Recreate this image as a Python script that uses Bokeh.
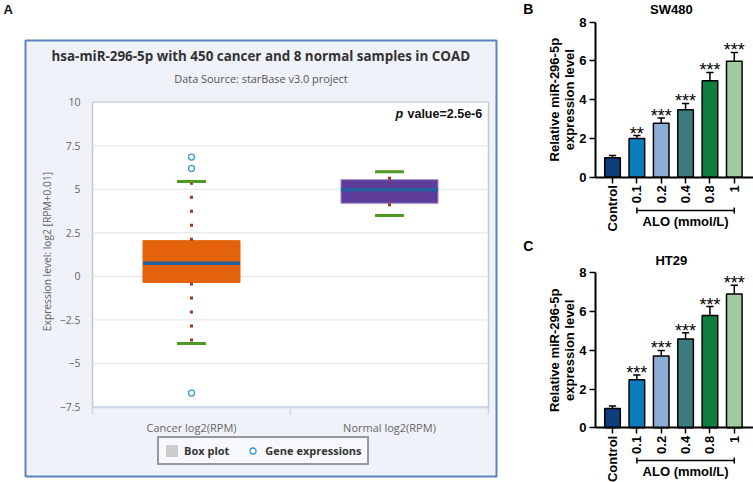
import math
from bokeh.plotting import figure
from bokeh.models import (Range1d, FixedTicker, Label, BoxAnnotation, Legend, LegendItem,
                          ColumnDataSource)
from bokeh.layouts import row, column
from bokeh.embed import file_html
from bokeh.resources import INLINE
from bokeh.core.properties import value

# ---------------- Panel A data (box plot) ----------------
box_categories = ["Cancer log2(RPM)", "Normal log2(RPM)"]
box_q1 = [-0.35, 4.2]
box_median = [0.75, 4.98]
box_q3 = [2.05, 5.55]
whisker_low = [-3.85, 3.5]
whisker_high = [5.45, 6.0]
outlier_group = ["Cancer log2(RPM)", "Cancer log2(RPM)", "Cancer log2(RPM)"]
outlier_values = [6.85, 6.2, -6.7]
y_ticks_A = [-7.5, -5, -2.5, 0, 2.5, 5, 7.5, 10]
box_colors = ["#e3620b", "#5e3c99"]
box_line_colors = ["#e3620b", "#9b86c9"]
title_A = "hsa-miR-296-5p with 450 cancer and 8 normal samples in COAD"
subtitle_A = "Data Source: starBase v3.0 project"
pvalue_p = "p"
pvalue_rest = "value=2.5e-6"
ylabel_A = "Expression level: log2 [RPM+0.01]"

# ---------------- Panel B / C data (bar charts) ----------------
doses = ["Control", "0.1", "0.2", "0.4", "0.8", "1"]
sw480_mean = [1.0, 2.0, 2.78, 3.48, 4.98, 5.98]
sw480_err = [0.12, 0.15, 0.27, 0.33, 0.43, 0.46]
sw480_stars = ["", "**", "***", "***", "***", "***"]
ht29_mean = [1.0, 2.48, 3.7, 4.58, 5.8, 6.9]
ht29_err = [0.12, 0.25, 0.29, 0.33, 0.46, 0.46]
ht29_stars = ["", "***", "***", "***", "***", "***"]
bar_colors = ["#0d3d7a", "#0a7cc0", "#8cadd6", "#3c7c7d", "#0b7e40", "#a4caa1"]
y_ticks_BC = [0, 2, 4, 6, 8]
group_label = "ALO (mmol/L)"

# =============== Panel A ===============
WA, HA = 517, 482
PX0, PX1 = 92.0, 488.0      # plot area, canvas px
PY0, PY1 = 101.7, 406.5
nA = len(box_categories)
ymin, ymax = y_ticks_A[0], y_ticks_A[-1]
ux = (PX1 - PX0) / nA
uy = (PY1 - PY0) / (ymax - ymin)

pA = figure(width=WA, height=HA,
            x_range=Range1d(-PX0 / ux, (WA - PX0) / ux),
            y_range=Range1d(ymin - (HA - PY1) / uy, ymax + PY0 / uy),
            output_backend="svg", toolbar_location=None, min_border=0)
pA.background_fill_color = "white"
pA.border_fill_color = "white"
pA.outline_line_color = None
pA.xgrid.visible = False
pA.ygrid.visible = False


def lab(p, H, px, py, text, **kw):
    p.add_layout(Label(x=px, y=H - py, x_units="screen", y_units="screen", text=text, **kw))


pA.add_layout(BoxAnnotation(left=25, right=496, top=HA - 40, bottom=HA - 476,
                            left_units="screen", right_units="screen",
                            top_units="screen", bottom_units="screen",
                            fill_color="#f0f2f9", fill_alpha=1.0,
                            line_color="#5b84bd", line_alpha=1.0, line_width=2,
                            level="underlay"))
pA.add_layout(BoxAnnotation(left=0, right=nA, top=ymax, bottom=ymin,
                            fill_color="white", fill_alpha=1.0,
                            line_color="#c3c7cf", line_alpha=1.0, line_width=1.5,
                            level="underlay"))

xposA = [i + 0.5 for i in range(nA)]

# horizontal grid lines at the y ticks, limited to the plot area
pA.segment(x0=[0] * len(y_ticks_A), y0=y_ticks_A, x1=[nA] * len(y_ticks_A), y1=y_ticks_A,
           line_color="#e3e3e3", line_width=1)

ya = pA.yaxis[0]
ya.fixed_location = 0
ya.bounds = (ymin, ymax)
ya.ticker = FixedTicker(ticks=y_ticks_A)
ya.axis_line_color = None
ya.major_tick_in = 0
ya.major_tick_out = 0
ya.minor_tick_in = 0
ya.minor_tick_out = 0
ya.major_label_text_font = "Open Sans"
ya.major_label_text_font_size = "10.5px"
ya.major_label_text_color = "#666666"
ya.major_label_standoff = 12

xa = pA.xaxis[0]
xa.fixed_location = ymin
xa.bounds = (0, nA)
xa.ticker = FixedTicker(ticks=xposA, minor_ticks=list(range(nA + 1)))
xa.major_label_overrides = {x: c for x, c in zip(xposA, box_categories)}
xa.axis_line_color = "#ccd6eb"
xa.axis_line_width = 1.5
xa.major_tick_in = 0
xa.major_tick_out = 0
xa.minor_tick_in = 0
xa.minor_tick_out = 7
xa.minor_tick_line_color = "#ccd6eb"
xa.minor_tick_line_width = 1.5
xa.major_label_text_font = "Open Sans"
xa.major_label_text_font_size = "11px"
xa.major_label_text_color = "#666666"
xa.major_label_standoff = 6

hw = 0.245
cw = 0.073
srcA = ColumnDataSource(dict(
    x=xposA, q1=box_q1, q3=box_q3, med=box_median, lo=whisker_low, hi=whisker_high,
    color=box_colors, line=box_line_colors,
    ml=[x - hw for x in xposA], mr=[x + hw for x in xposA],
    cl=[x - cw for x in xposA], cr=[x + cw for x in xposA]))

pA.vbar(x="x", width=2 * hw, bottom="q1", top="q3", fill_color="color",
        line_color="line", line_width=1, source=srcA)
pA.segment(x0="x", y0="q3", x1="x", y1="hi", line_color="#a3361b", line_width=3,
           line_dash="3 11", source=srcA)
pA.segment(x0="x", y0="q1", x1="x", y1="lo", line_color="#a3361b", line_width=3,
           line_dash="3 11", source=srcA)
pA.segment(x0="ml", y0="med", x1="mr", y1="med", line_color="#23609f", line_width=3.5,
           source=srcA)
pA.segment(x0="cl", y0="hi", x1="cr", y1="hi", line_color="#4c9a22", line_width=3,
           source=srcA)
pA.segment(x0="cl", y0="lo", x1="cr", y1="lo", line_color="#4c9a22", line_width=3,
           source=srcA)

srcO = ColumnDataSource(dict(
    x=[xposA[box_categories.index(g)] for g in outlier_group], y=outlier_values))
out_r = pA.scatter(x="x", y="y", marker="circle", size=6, fill_color="white",
                   line_color="#3c98d6", line_width=1.3, source=srcO)
# legend-only swatch (no drawable geometry)
nan = float("nan")
dummy_box = pA.quad(left=[nan], right=[nan], top=[nan], bottom=[nan],
                    fill_color="#cccccc", fill_alpha=1.0, line_color=None)

legend = Legend(items=[LegendItem(label="Box plot", renderers=[dummy_box], index=0),
                       LegendItem(label="Gene expressions", renderers=[out_r])],
                orientation="horizontal", location=(157, HA - 465),
                glyph_width=15, glyph_height=15, label_height=15, label_standoff=5,
                spacing=16, padding=5, margin=0,
                label_text_font="Open Sans", label_text_font_style="bold",
                label_text_font_size="11px", label_text_color="#333333",
                border_line_color="#3a3a3a", border_line_width=2.5,
                background_fill_color="#f7f8fb", background_fill_alpha=1.0)
pA.add_layout(legend)

lab(pA, HA, 3, 9, "A", text_font="Liberation Sans", text_font_style="bold",
    text_font_size="13px", text_align="left", text_baseline="middle", text_color="#111111")
lab(pA, HA, 260.3, 55, title_A, text_font="Open Sans", text_font_style="bold",
    text_font_size="13.4px", text_align="center", text_baseline="middle", text_color="#333333")
lab(pA, HA, 260.5, 78, subtitle_A, text_font="Open Sans", text_font_size="10.9px",
    text_align="center", text_baseline="middle", text_color="#555555")
lab(pA, HA, 395, 113, pvalue_p, text_font="Liberation Sans", text_font_style="bold italic",
    text_font_size="12.5px", text_align="left", text_baseline="middle", text_color="#111111")
lab(pA, HA, 481.7, 113, pvalue_rest, text_font="Liberation Sans", text_font_style="bold",
    text_font_size="12.5px", text_align="right", text_baseline="middle", text_color="#111111")
lab(pA, HA, 46, 251, ylabel_A, angle=math.pi / 2, text_font="Open Sans",
    text_font_size="10.25px", text_align="center", text_baseline="middle", text_color="#666666")


# =============== Panels B / C ===============
def bar_panel(letter, title, means, errs, stars, fig_h, y8_cy, y0_cy, bracket_cy, alo_cy,
              letter_cy, title_cy):
    W = 236
    axis_cx = 78.0
    c0_cx = 95.0
    step = 24.36
    pxu = (y0_cy - y8_cy) / 8.0

    def xd(cx):
        return (cx - c0_cx) / step

    def yd(cy):
        return (y0_cy - cy) / pxu

    x_start, x_end = xd(0), xd(W)
    y_start, y_end = yd(fig_h), yd(0)
    p = figure(width=W, height=fig_h, x_range=Range1d(x_start, x_end),
               y_range=Range1d(y_start, y_end), output_backend="svg",
               toolbar_location=None, min_border=0)
    p.outline_line_color = None
    p.xgrid.visible = False
    p.ygrid.visible = False
    p.background_fill_color = "white"
    p.border_fill_color = "white"

    xs = list(range(len(doses)))
    cap = 0.15
    src = ColumnDataSource(dict(
        x=xs, top=means, err_top=[m + e for m, e in zip(means, errs)],
        cl=[x - cap for x in xs], cr=[x + cap for x in xs],
        color=bar_colors, stars=stars))
    p.segment(x0="x", y0="top", x1="x", y1="err_top", line_color="black", line_width=1.5,
              source=src)
    p.segment(x0="cl", y0="err_top", x1="cr", y1="err_top", line_color="black",
              line_width=1.5, source=src)
    p.vbar(x="x", top="top", bottom=0, width=0.64, fill_color="color", line_color="black",
           line_width=1.5, source=src)
    p.text(x="x", y="err_top", text="stars", source=src, text_font=value("Liberation Sans"),
           text_font_size="18px", text_align="center", text_baseline="alphabetic",
           y_offset=-2, text_color="black")

    xa = p.xaxis[0]
    xa.fixed_location = 0
    xa.bounds = (xd(axis_cx), x_end)
    xa.ticker = FixedTicker(ticks=xs)
    xa.major_label_overrides = {x: d for x, d in zip(xs, doses)}
    xa.major_label_orientation = math.pi / 2
    xa.axis_line_width = 2
    xa.axis_line_color = "black"
    xa.major_tick_in = 0
    xa.major_tick_out = 6
    xa.major_tick_line_width = 1.5
    xa.minor_tick_line_color = None
    xa.major_label_text_font = "Liberation Sans"
    xa.major_label_text_font_style = "bold"
    xa.major_label_text_font_size = "13px"
    xa.major_label_text_color = "black"
    xa.major_label_standoff = 2

    ya = p.yaxis[0]
    ya.fixed_location = xd(axis_cx)
    ya.bounds = (y_ticks_BC[0], y_ticks_BC[-1])
    ya.ticker = FixedTicker(ticks=y_ticks_BC)
    ya.axis_line_width = 2
    ya.axis_line_color = "black"
    ya.major_tick_in = 0
    ya.major_tick_out = 6
    ya.major_tick_line_width = 1.5
    ya.minor_tick_line_color = None
    ya.major_label_text_font = "Liberation Sans"
    ya.major_label_text_font_style = "bold"
    ya.major_label_text_font_size = "13px"
    ya.major_label_text_color = "black"
    ya.major_label_standoff = 3

    # bracket under the treated groups
    g0, g1 = 1, len(doses) - 1
    yb = yd(bracket_cy)
    t = 3.0 / pxu
    p.segment(x0=[g0, g0, g1], y0=[yb, yb - t, yb - t], x1=[g1, g0, g1], y1=[yb, yb + t, yb + t],
              line_color="black", line_width=1.5)
    p.add_layout(Label(x=(g0 + g1) / 2, y=yd(alo_cy), text=group_label,
                       text_font="Liberation Sans", text_font_style="bold",
                       text_font_size="13px", text_align="center", text_baseline="middle",
                       text_color="black"))
    mid = (y_ticks_BC[0] + y_ticks_BC[-1]) / 2
    p.add_layout(Label(x=xd(37), y=mid, text="Relative miR-296-5p", angle=math.pi / 2,
                       text_font="Liberation Sans", text_font_style="bold",
                       text_font_size="13px", text_align="center", text_baseline="middle",
                       text_color="black"))
    p.add_layout(Label(x=xd(51.5), y=mid, text="expression level", angle=math.pi / 2,
                       text_font="Liberation Sans", text_font_style="bold",
                       text_font_size="13px", text_align="center", text_baseline="middle",
                       text_color="black"))
    p.add_layout(Label(x=xd(5.7), y=yd(letter_cy), text=letter,
                       text_font="Liberation Sans", text_font_style="bold",
                       text_font_size="14px", text_align="left", text_baseline="middle",
                       text_color="black"))
    p.add_layout(Label(x=xd(153.8), y=yd(title_cy), text=title,
                       text_font="Liberation Sans", text_font_style="bold",
                       text_font_size="13px", text_align="center", text_baseline="middle",
                       text_color="black"))
    return p


pB = bar_panel("B", "SW480", sw480_mean, sw480_err, sw480_stars, 238,
               21.7, 176.7, 210.0, 220.7, 8.3, 9.2)
pC = bar_panel("C", "HT29", ht29_mean, ht29_err, ht29_stars, 244,
               34.3, 189.3, 222.0, 232.7, 7.3, 22.0)

layout = row(pA, column(pB, pC))
open("out.html", "w").write(file_html(layout, INLINE))
